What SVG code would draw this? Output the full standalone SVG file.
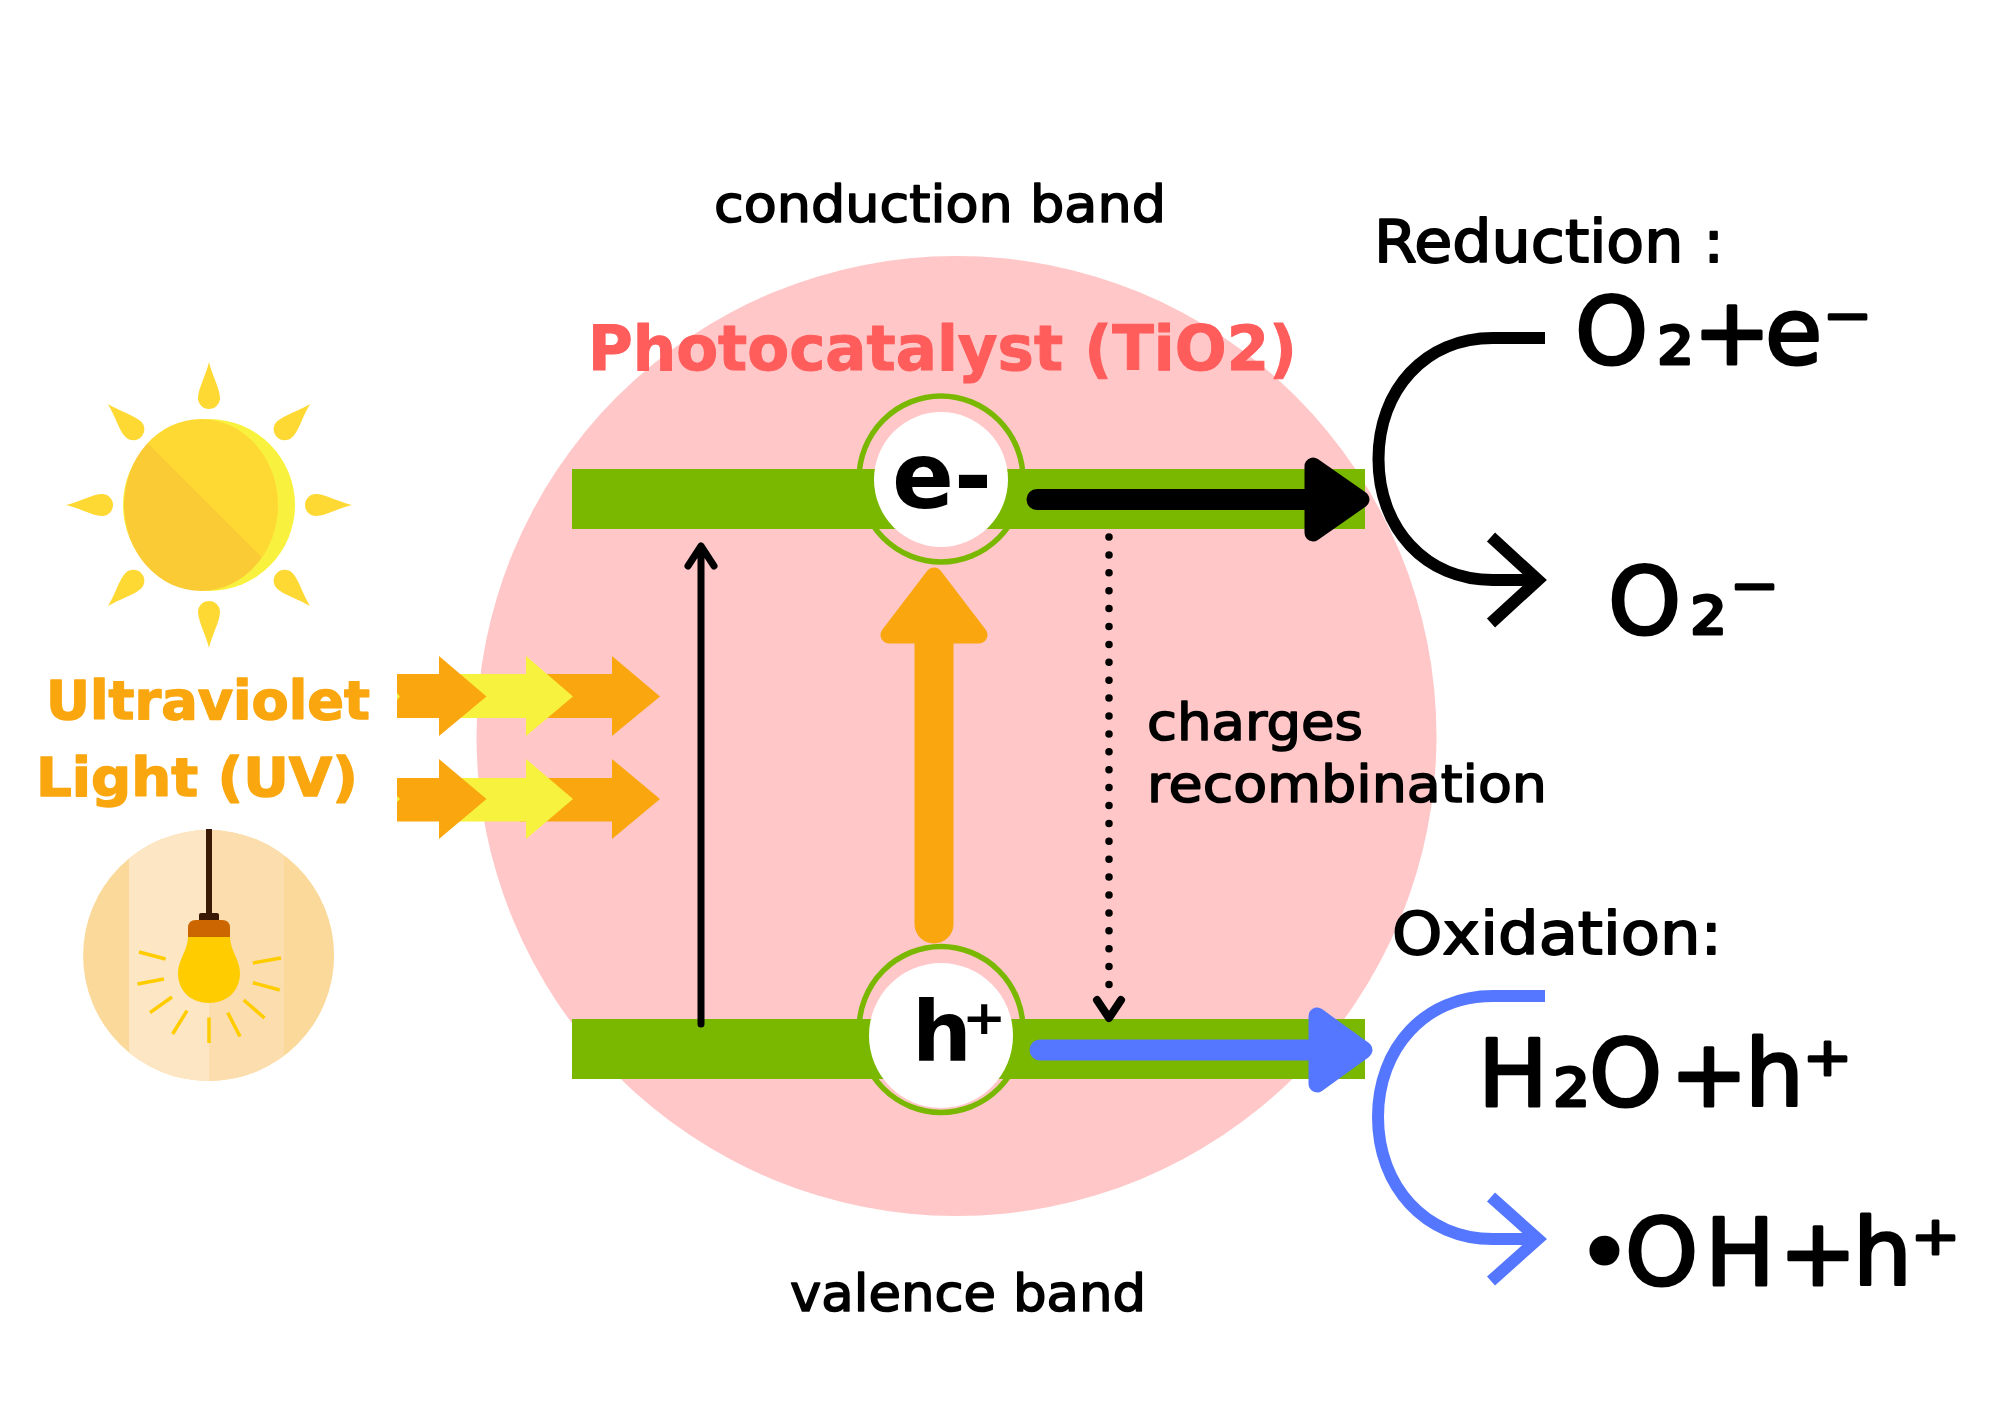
<svg xmlns="http://www.w3.org/2000/svg" width="2000" height="1414" viewBox="0 0 2000 1414">
<style>
text{font-family:"DejaVu Sans","Liberation Sans",sans-serif;fill:#000;stroke:#000;stroke-linejoin:round}
.lbl{font-size:52px;stroke-width:1.6px}
.big{font-size:93px;stroke-width:3px}
.uv{font-size:54px;font-weight:bold;fill:#FAA70F;stroke:#FAA70F;stroke-width:1.5px}
.band{fill:#7AB800}
.ring{fill:none;stroke:#7AB800;stroke-width:5.5}
.hole{fill:#fff}
.org{fill:#FAA70F}
.yel{fill:#F6F23E}
.ray{stroke:#FFCC00;stroke-width:3.5;fill:none}
.blk{fill:none;stroke:#000;stroke-width:12}
.blu{fill:none;stroke:#5577FF;stroke-width:12}
</style>
<defs>
<linearGradient id="sunFill" gradientUnits="userSpaceOnUse" x1="202.5" y1="499.5" x2="204.5" y2="497.5">
<stop offset="0.5" stop-color="#FBCB35"/><stop offset="0.5" stop-color="#FFD933"/>
</linearGradient>
<clipPath id="lampClip"><circle cx="208.6" cy="955.5" r="125.5"/></clipPath>
<path id="sunRay" d="M0-143C3-130 11-116 11-107A11 11 0 0 1-11-107C-11-116-3-130 0-143Z"/>
</defs>
<rect width="2000" height="1414" fill="#fff"/>
<g id="catalyst"><circle cx="956.5" cy="736" r="480" fill="#FFC7C7"/></g>
<g id="sun" fill="url(#sunFill)">
<circle cx="209" cy="505" r="86" fill="#F8F23E"/>
<ellipse cx="201" cy="505" rx="77" ry="86"/>
<use href="#sunRay" transform="translate(209 505)"/>
<use href="#sunRay" transform="translate(209 505) rotate(45)"/>
<use href="#sunRay" transform="translate(209 505) rotate(90)"/>
<use href="#sunRay" transform="translate(209 505) rotate(135)"/>
<use href="#sunRay" transform="translate(209 505) rotate(180)"/>
<use href="#sunRay" transform="translate(209 505) rotate(225)"/>
<use href="#sunRay" transform="translate(209 505) rotate(270)"/>
<use href="#sunRay" transform="translate(209 505) rotate(315)"/>
</g>
<g id="lamp">
<circle cx="208.6" cy="955.5" r="125.5" fill="#FBD99A"/>
<g clip-path="url(#lampClip)">
<rect x="129" y="820" width="80" height="270" fill="#FDE6C3"/>
<rect x="209" y="820" width="75" height="270" fill="#FCDDAD"/>
</g>
<rect x="206" y="829" width="6" height="86" fill="#3B1A05"/>
<rect x="199" y="913" width="20" height="9" rx="2" fill="#3B1A05"/>
<path d="M188 937V928Q188 920 196 920H222Q230 920 230 928V937Z" fill="#CC6600"/>
<path d="M188 937H230C230 950 240 960 240 973C240 992 226 1003 209 1003C192 1003 178 992 178 973C178 960 188 950 188 937Z" fill="#FFCC00"/>
<path class="ray" d="M139 952L165.6 959M137.5 984L164 979M150 1012.6L172 997M172.6 1034L187 1010.6M209 1017.5V1043M227.7 1012.6L240 1036.5M243.7 1000L264.5 1018M252.8 982.7L279.7 990M252.8 963L281 958"/>
</g>
<g id="uv-label">
<text class="uv" x="46" y="719" textLength="324" lengthAdjust="spacingAndGlyphs">Ultraviolet</text>
<text class="uv" x="36" y="796" textLength="322" lengthAdjust="spacingAndGlyphs">Light (UV)</text>
</g>
<g id="uv-arrows">
<path class="org" d="M520 674H612V656L660 696.5L612 736V718H520Z"/>
<path class="yel" d="M450 674H526V656L573 696.5L526 736V718H450Z"/>
<path class="org" d="M397 674H439V656L486.5 696.5L439 736V718H397Z"/>
<path class="yel" d="M397 693L400 696.5L397 700Z"/>
<path class="org" d="M520 778H612V759L660 799L612 839V821.5H520Z"/>
<path class="yel" d="M450 778H526V759L573 799L526 839V821.5H450Z"/>
<path class="org" d="M397 778H439V759L486.5 799L439 839V821.5H397Z"/>
<path class="yel" d="M397 796L400 799L397 802Z"/>
</g>
<g id="conduction-band">
<ellipse class="ring" cx="941" cy="479" rx="82" ry="83"/>
<rect class="band" x="572" y="469" width="793" height="60"/>
<ellipse class="hole" cx="941" cy="479.5" rx="67" ry="67.5"/>
<text x="892" y="508" font-size="92" font-weight="bold" textLength="100" lengthAdjust="spacingAndGlyphs" stroke-width="0">e-</text>
</g>
<g id="valence-band">
<ellipse class="ring" cx="941" cy="1029.5" rx="82" ry="83"/>
<rect class="band" x="572" y="1019" width="793" height="60"/>
<ellipse class="hole" cx="941" cy="1035.5" rx="72" ry="72.5"/>
<text x="912" y="1061" font-size="84" font-weight="bold" stroke-width="0">h</text>
<text x="962" y="1062" font-size="84" font-weight="bold" stroke-width="0">⁺</text>
</g>
<g id="connectors">
<path d="M701 1024V548M688 566L701 546L714 566" fill="none" stroke="#000" stroke-width="7" stroke-linecap="round" stroke-linejoin="round"/>
<path d="M934 924V640" fill="none" stroke="#FAA70F" stroke-width="39" stroke-linecap="round"/>
<path d="M934 576L889 635H979Z" fill="#FAA70F" stroke="#FAA70F" stroke-width="17" stroke-linejoin="round"/>
<path d="M1109 537V1002" fill="none" stroke="#000" stroke-width="7.5" stroke-linecap="round" stroke-dasharray="0 17.9"/>
<path d="M1097 1000L1109 1018L1121 1000" fill="none" stroke="#000" stroke-width="8" stroke-linecap="round" stroke-linejoin="round"/>
<path d="M1037 499.5H1310" fill="none" stroke="#000" stroke-width="21" stroke-linecap="round"/>
<path d="M1313 466V533L1361 499.5Z" fill="#000" stroke="#000" stroke-width="17" stroke-linejoin="round"/>
<path d="M1040 1050H1315" fill="none" stroke="#5577FF" stroke-width="21" stroke-linecap="round"/>
<path d="M1317 1016V1084L1364 1050Z" fill="#5577FF" stroke="#5577FF" stroke-width="17" stroke-linejoin="round"/>
<path class="blk" d="M1545 338H1493C1425 338 1378.5 390 1378.5 459C1378.5 528 1425 580 1493 580H1538"/>
<path class="blk" d="M1491 537L1538 580L1491 623" stroke-linejoin="miter"/>
<path class="blu" d="M1545 996H1493C1425 996 1378 1048 1378 1117C1378 1186 1425 1239 1493 1239H1538"/>
<path class="blu" d="M1491 1197L1538 1239L1491 1281"/>
</g>
<g id="labels">
<text class="lbl" x="714" y="222" textLength="452" lengthAdjust="spacingAndGlyphs">conduction band</text>
<text x="588" y="370" font-size="62" font-weight="bold" textLength="709" lengthAdjust="spacingAndGlyphs" style="fill:#FF5C5C;stroke:#FF5C5C;stroke-width:1">Photocatalyst (TiO2)</text>
<text class="lbl" x="1147" y="740" textLength="216" lengthAdjust="spacingAndGlyphs">charges</text>
<text class="lbl" x="1147" y="802" textLength="400" lengthAdjust="spacingAndGlyphs">recombination</text>
<text class="lbl" x="790" y="1311" textLength="356" lengthAdjust="spacingAndGlyphs">valence band</text>
<text x="1374" y="262" font-size="58" textLength="350" lengthAdjust="spacingAndGlyphs" stroke-width="1.8">Reduction :</text>
<text x="1392" y="954" font-size="58" textLength="330" lengthAdjust="spacingAndGlyphs" stroke-width="1.8">Oxidation:</text>
</g>
<g id="reduction">
<text class="big" x="1575 1657 1693 1765 1823" y="364">O₂+e⁻</text>
<text class="big" x="1608 1690 1730" y="634">O₂⁻</text>
</g>
<g id="oxidation">
<text class="big" x="1478 1553 1589 1670 1745 1803" y="1106">H₂O+h⁺</text>
<text class="big" x="1577 1625 1705 1779 1853 1911" y="1285">•OH+h⁺</text>
</g>
</svg>
